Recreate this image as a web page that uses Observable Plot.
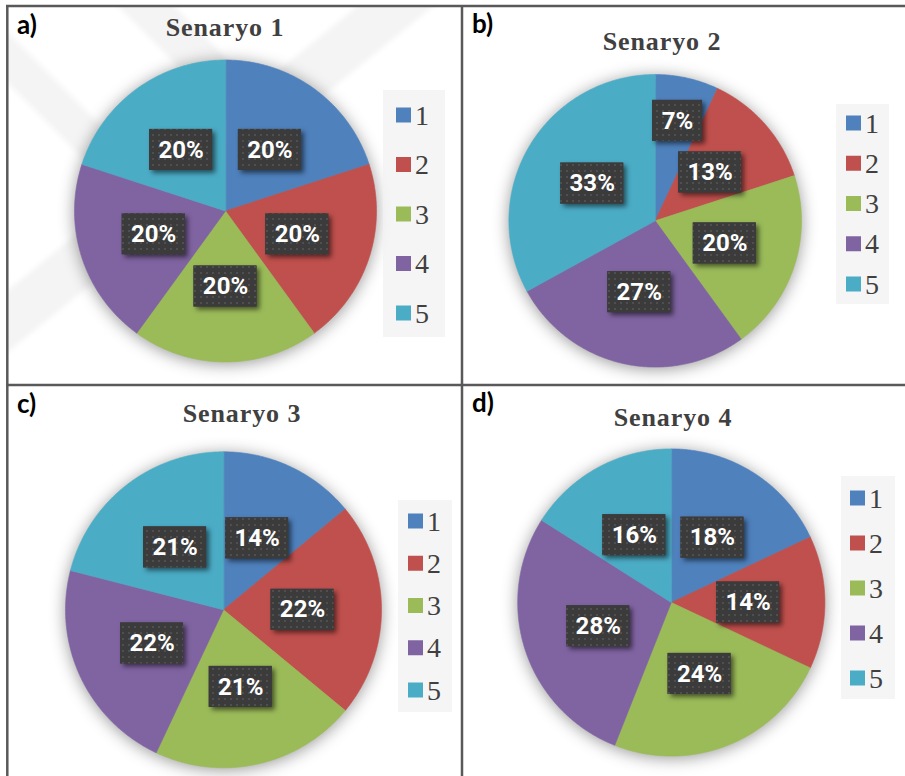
<!DOCTYPE html>
<html>
<head>
<meta charset="utf-8">
<script src="https://cdn.jsdelivr.net/npm/d3@7"></script>
<script src="https://cdn.jsdelivr.net/npm/@observablehq/plot@0.6"></script>
<style>
  html, body { margin: 0; padding: 0; background: #fff; }
  #page { position: relative; width: 905px; height: 776px; overflow: hidden; background: #fff; }
  #page > svg { position: absolute; left: 0; top: 0; overflow: visible; }
  .layer-back { z-index: 0; }
  .layer-plot { z-index: 1; }
  .layer-front { z-index: 2; pointer-events: none; }
</style>
</head>
<body>
<svg width="0" height="0" style="position:absolute">
  <defs>
    <pattern id="dots" width="6" height="6" patternUnits="userSpaceOnUse">
      <rect width="6" height="6" fill="#3b3b3b"></rect>
      <circle cx="3" cy="3" r="0.9" fill="#585858"></circle>
    </pattern>
    <filter id="soft" x="-20%" y="-20%" width="140%" height="140%">
      <feGaussianBlur stdDeviation="2.5"></feGaussianBlur>
    </filter>
  </defs>
</svg>
<div id="page"></div>
<script>
// ---------------- data ----------------
const categories = ["1", "2", "3", "4", "5"];
const colors = ["#4F81BD", "#C0504D", "#9BBB59", "#8064A2", "#4BACC6"];
const panelLetters = ["a)", "b)", "c)", "d)"];
const titles = ["Senaryo 1", "Senaryo 2", "Senaryo 3", "Senaryo 4"];
const senaryo1 = [20, 20, 20, 20, 20];
const senaryo2 = [7, 13, 20, 27, 33];
const senaryo3 = [14, 22, 21, 22, 21];
const senaryo4 = [18, 14, 24, 28, 16];
const series = [senaryo1, senaryo2, senaryo3, senaryo4];

// ---------------- layout ----------------
const W = 905, H = 776;
const layout = [
  {cx: 225, cy: 210.5, r: 151, title: [225, 36], letter: [17, 34],
   legend: {x: 383, y: 90, w: 62, h: 247, sq: 396, y0: 115, step: 49.5}},
  {cx: 654.7, cy: 220.3, r: 146.3, title: [662, 50], letter: [472, 33],
   legend: {x: 836, y: 104, w: 53, h: 200, sq: 846, y0: 123, step: 40.25}},
  {cx: 223, cy: 609.3, r: 158, title: [242, 421.5], letter: [17, 413],
   legend: {x: 398, y: 500, w: 54, h: 212, sq: 408, y0: 521, step: 42.25}},
  {cx: 670.8, cy: 602, r: 153.6, title: [673, 426], letter: [472, 412],
   legend: {x: 841, y: 476, w: 54, h: 223, sq: 850, y0: 498, step: 45}}
];

const page = d3.select("#page");

// ---------------- background (faint watermark in panel a) ----------------
const back = page.append("svg").attr("class", "layer-back").attr("width", W).attr("height", H);
back.append("clipPath").attr("id", "clipA").append("rect")
  .attr("x", 8).attr("y", 6).attr("width", 454).attr("height", 379);
const wm = back.append("g").attr("clip-path", "url(#clipA)")
  .attr("stroke", "#000").attr("stroke-opacity", 0.045).attr("fill", "none")
  .attr("filter", "url(#soft)");
wm.append("line").attr("x1", -30).attr("y1", 20).attr("x2", 160).attr("y2", 210).attr("stroke-width", 36);
wm.append("line").attr("x1", 110).attr("y1", -30).attr("x2", 300).attr("y2", 160).attr("stroke-width", 40);
wm.append("line").attr("x1", 440).attr("y1", -30).attr("x2", -40).attr("y2", 360).attr("stroke-width", 48);

// ---------------- pies ----------------
function piePlot(values, L) {
  const total = d3.sum(values);
  const pts = [];
  const labels = [];
  let acc = 0;
  values.forEach((v, i) => {
    const k = categories[i];
    const a0 = acc / total * 2 * Math.PI;
    const a1 = (acc + v) / total * 2 * Math.PI;
    acc += v;
    const n = Math.max(2, Math.ceil((a1 - a0) / (Math.PI / 360)));
    pts.push({k, x: 0, y: 0});
    for (let j = 0; j <= n; j++) {
      const a = a0 + (a1 - a0) * j / n;
      pts.push({k, x: Math.sin(a), y: Math.cos(a)});
    }
    const am = (a0 + a1) / 2;
    const f = v / total < 0.1 ? 0.7 : 0.5;
    const text = Math.round(v / total * 100) + "%";
    const hw = (text.length === 2 ? 50 : 63) / 2 / L.r;
    const hh = 20.5 / L.r;
    labels.push({k, text, x: f * Math.sin(am), y: f * Math.cos(am), hw, hh});
  });
  const box = {
    x1: d => d.x - d.hw, x2: d => d.x + d.hw,
    y1: d => d.y - d.hh, y2: d => d.y + d.hh
  };
  const svg = Plot.plot({
    width: W,
    height: H,
    x: {domain: [-1, 1], range: [L.cx - L.r, L.cx + L.r], axis: null},
    y: {domain: [-1, 1], range: [L.cy + L.r, L.cy - L.r], axis: null},
    color: {domain: categories, range: colors},
    marks: [
      Plot.line(pts, {x: "x", y: "y", z: "k", fill: "k", stroke: "k", strokeWidth: 0.6, curve: "linear-closed"}),
      Plot.rect(labels, {...box, fill: "#3b3b3b"}),
      Plot.rect(labels, {...box, fill: "url(#dots)"}),
      Plot.text(labels, {x: "x", y: "y", text: "text", fill: "white", fontSize: 24,
        fontWeight: "bold", fontFamily: "Roboto"})
    ]
  });
  svg.setAttribute("class", svg.getAttribute("class") + " layer-plot");
  svg.style.background = "transparent";
  svg.style.overflow = "visible";
  svg.style.maxWidth = "none";
  const lines = svg.querySelectorAll('g[aria-label="line"]');
  lines.forEach(g => g.style.filter = "drop-shadow(0px 2px 8px rgba(0,0,0,0.4))");
  const rects = svg.querySelectorAll('g[aria-label="rect"]');
  if (rects[0]) rects[0].style.filter = "drop-shadow(3px 3px 2.5px rgba(0,0,0,0.55))";
  return svg;
}

series.forEach((values, i) => {
  page.node().appendChild(piePlot(values, layout[i]));
});

// ---------------- front: borders, titles, letters, legends ----------------
const front = page.append("svg").attr("class", "layer-front").attr("width", W).attr("height", H);
const bc = "#595959", bw = 2.5;
front.append("line").attr("x1", 6).attr("x2", W).attr("y1", 6).attr("y2", 6).attr("stroke", bc).attr("stroke-width", bw);
front.append("line").attr("x1", 7.3).attr("x2", 7.3).attr("y1", 5).attr("y2", H).attr("stroke", bc).attr("stroke-width", bw);
front.append("line").attr("x1", 462).attr("x2", 462).attr("y1", 5).attr("y2", H).attr("stroke", bc).attr("stroke-width", bw);
front.append("line").attr("x1", 6).attr("x2", W).attr("y1", 385).attr("y2", 385).attr("stroke", bc).attr("stroke-width", bw);

layout.forEach((L, i) => {
  front.append("text")
    .attr("x", L.title[0]).attr("y", L.title[1])
    .attr("text-anchor", "middle")
    .attr("font-family", "'Liberation Serif', serif")
    .attr("font-weight", "bold")
    .attr("font-size", 26)
    .attr("letter-spacing", "0.9px")
    .attr("fill", "#404040")
    .text(titles[i]);
  front.append("text")
    .attr("x", L.letter[0]).attr("y", L.letter[1])
    .attr("font-family", "Lato, sans-serif")
    .attr("font-weight", "bold")
    .attr("font-size", 26)
    .attr("fill", "#000")
    .text(panelLetters[i]);
  const lg = L.legend;
  front.append("rect")
    .attr("x", lg.x).attr("y", lg.y).attr("width", lg.w).attr("height", lg.h)
    .attr("fill", "#f2f2f2").attr("fill-opacity", 0.75);
  categories.forEach((c, j) => {
    const yc = lg.y0 + lg.step * j;
    front.append("rect")
      .attr("x", lg.sq).attr("y", yc - 7.5).attr("width", 15).attr("height", 15)
      .attr("fill", colors[j]);
    front.append("text")
      .attr("x", lg.sq + 19).attr("y", yc + 9.5)
      .attr("font-family", "'Liberation Serif', serif")
      .attr("font-size", 28)
      .attr("fill", "#404040")
      .text(c);
  });
});
</script>
</body>
</html>
